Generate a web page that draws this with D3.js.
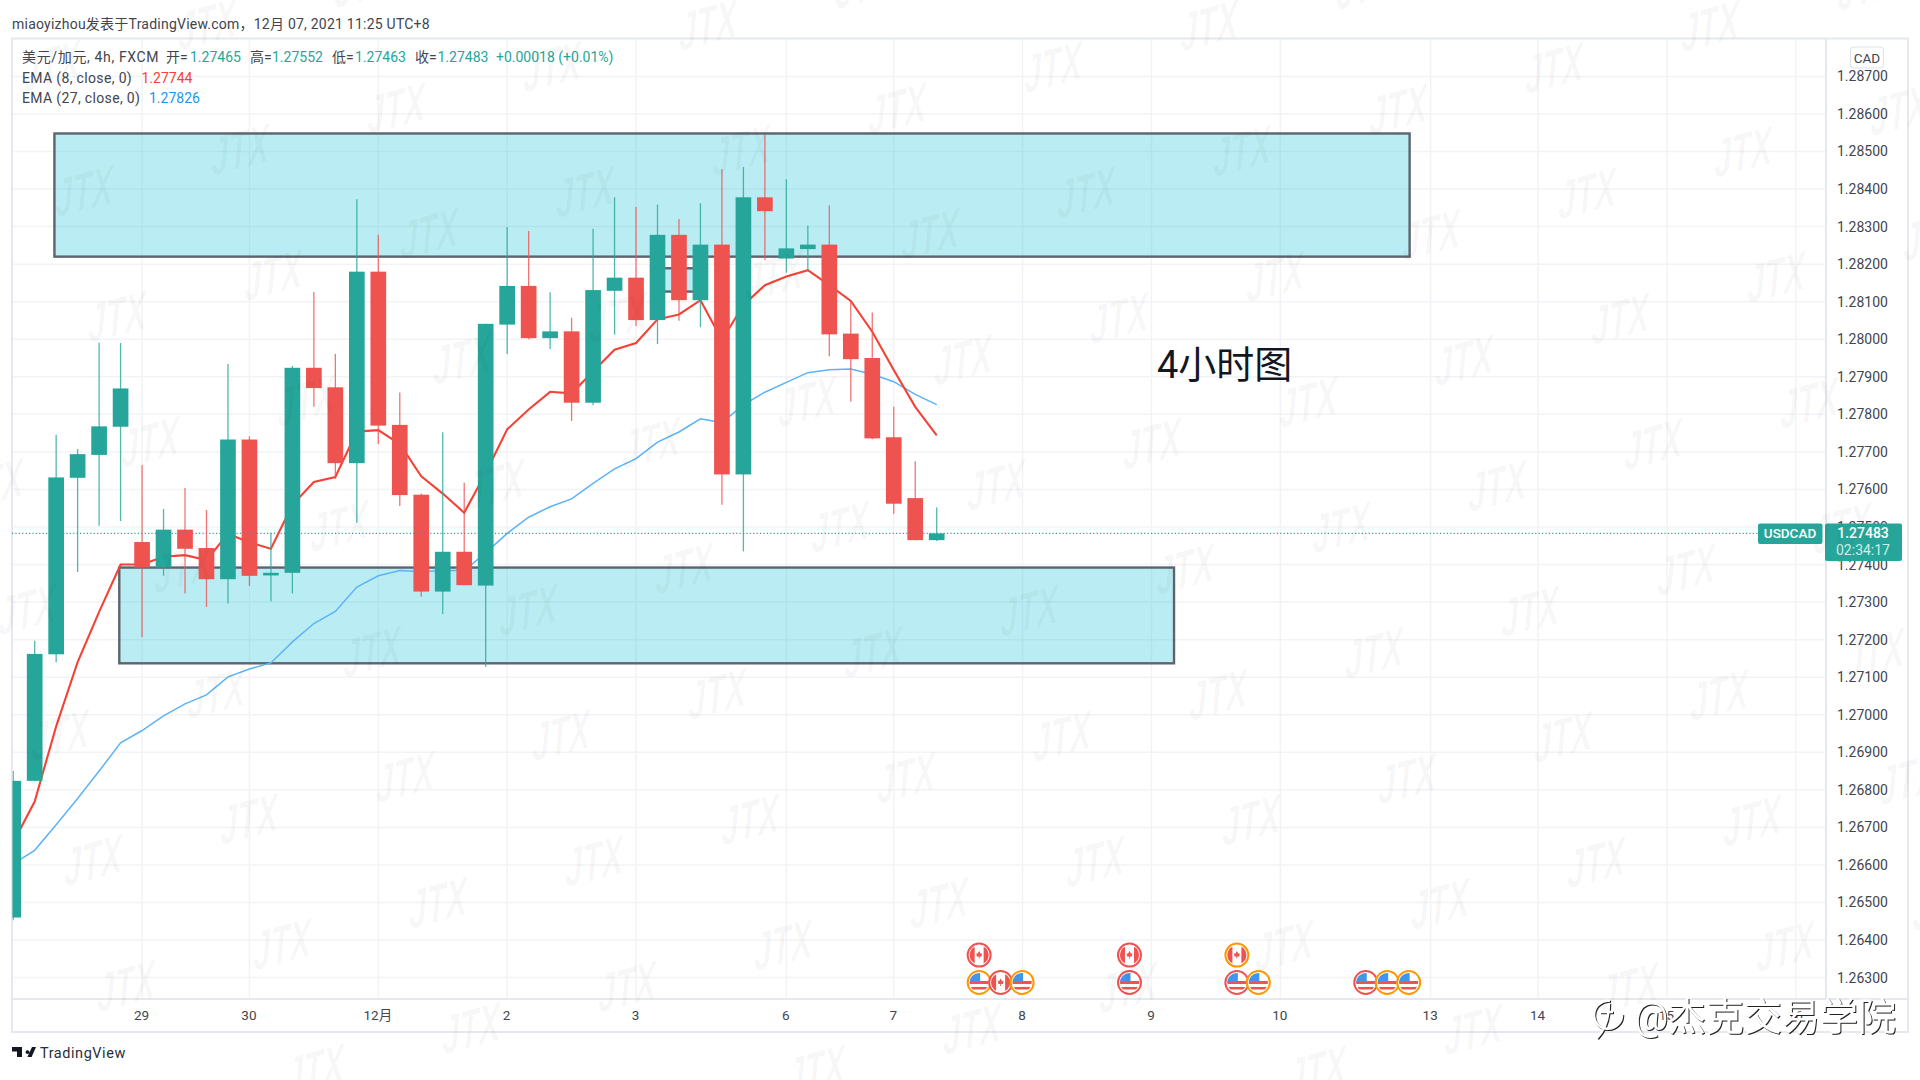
<!DOCTYPE html>
<html lang="zh">
<head>
<meta charset="utf-8">
<title>USDCAD 4h</title>
<script src="https://cdn.jsdelivr.net/npm/d3@7"></script>
<style>
html,body{margin:0;padding:0;background:#fff;}
svg{display:block;}
text{font-family:Roboto,"Noto Sans CJK SC",sans-serif;}
</style>
</head>
<body>
<svg id="c" width="1920" height="1080"></svg>
<script>
// ---------- data ----------
const opens = [1.26460,1.26824,1.27161,1.27631,1.27692,1.27767,1.27460,1.27392,1.27493,1.27444,1.27361,1.27733,1.27371,1.27378,1.27924,1.27872,1.27670,1.28180,1.27772,1.27586,1.27328,1.27434,1.27344,1.28039,1.28142,1.28003,1.28021,1.27831,1.28129,1.28164,1.28051,1.28278,1.28104,1.28252,1.27640,1.28378,1.28215,1.28240,1.28252,1.28015,1.27950,1.27739,1.27577,1.27465];
const highs = [1.26850,1.27197,1.27746,1.27708,1.27991,1.27990,1.27665,1.27548,1.27604,1.27545,1.27934,1.27742,1.27485,1.27929,1.28126,1.27961,1.28373,1.28278,1.27858,1.27589,1.27752,1.27618,1.28041,1.28299,1.28288,1.28125,1.28057,1.28294,1.28378,1.28352,1.28359,1.28320,1.28362,1.28453,1.28459,1.28544,1.28426,1.28303,1.28356,1.28100,1.28071,1.27820,1.27675,1.27552];
const lows = [1.26453,1.26823,1.27140,1.27380,1.27503,1.27516,1.27207,1.27370,1.27323,1.27287,1.27296,1.27343,1.27302,1.27323,1.27820,1.27628,1.27511,1.27721,1.27556,1.27314,1.27268,1.27345,1.27128,1.27961,1.28000,1.27974,1.27782,1.27824,1.28013,1.28035,1.27987,1.28049,1.28032,1.27559,1.27435,1.28211,1.28177,1.28184,1.27955,1.27834,1.27734,1.27535,1.27465,1.27463];
const closes = [1.26824,1.27162,1.27632,1.27694,1.27768,1.27869,1.27392,1.27493,1.27442,1.27361,1.27733,1.27370,1.27378,1.27924,1.27870,1.27670,1.28180,1.27770,1.27585,1.27328,1.27434,1.27345,1.28041,1.28142,1.28003,1.28021,1.27831,1.28131,1.28164,1.28051,1.28278,1.28104,1.28252,1.27640,1.28378,1.28341,1.28242,1.28252,1.28013,1.27947,1.27736,1.27562,1.27465,1.27483];
const ema8 = [1.26660,1.26769,1.26969,1.27140,1.27274,1.27400,1.27400,1.27421,1.27425,1.27412,1.27482,1.27459,1.27442,1.27559,1.27620,1.27633,1.27754,1.27758,1.27721,1.27635,1.27589,1.27538,1.27644,1.27760,1.27813,1.27860,1.27856,1.27914,1.27972,1.27990,1.28053,1.28066,1.28104,1.27998,1.28091,1.28144,1.28167,1.28184,1.28144,1.28102,1.28020,1.27918,1.27820,1.27744];
const ema27 = [1.26603,1.26639,1.26707,1.26777,1.26850,1.26925,1.26958,1.26997,1.27029,1.27053,1.27101,1.27122,1.27138,1.27194,1.27243,1.27275,1.27340,1.27370,1.27384,1.27381,1.27384,1.27384,1.27431,1.27483,1.27526,1.27554,1.27575,1.27616,1.27655,1.27682,1.27726,1.27753,1.27788,1.27778,1.27825,1.27859,1.27885,1.27911,1.27919,1.27921,1.27907,1.27887,1.27853,1.27826];
const priceTicks = [1.287,1.286,1.285,1.284,1.283,1.282,1.281,1.280,1.279,1.278,1.277,1.276,1.275,1.274,1.273,1.272,1.271,1.270,1.269,1.268,1.267,1.266,1.265,1.264,1.263];
const timeIdx = [6,11,17,23,29,36,41,47,53,59,66,71,77,83];
const timeLabels = ["29","30","12月","2","3","6","7","8","9","10","13","14","15","16"];
const zoneX0 = [1.92,4.94,30];
const zoneX1 = [65.02,54.05,32];
const zoneTop = [1.28548,1.27392,1.28189];
const zoneBottom = [1.28220,1.27137,1.28127];
const eventIdx = [45,52,57,45,46,47,52,57,58,63,64,65];
const eventPrice = [1.26360,1.26360,1.26360,1.26287,1.26287,1.26287,1.26287,1.26287,1.26287,1.26287,1.26287,1.26287];
const eventCountry = ["CA","CA","CA","US","CA","US","US","US","US","US","US","US"];
const eventRing = ["#ef5350","#ef5350","#ff9800","#ff9800","#ef5350","#ff9800","#ef5350","#ef5350","#ff9800","#ef5350","#ff9800","#ff9800"];
const lastPrice = 1.27483;
const headerText = "miaoyizhou发表于TradingView.com，12月 07, 2021 11:25 UTC+8";
const legendLabels = ["美元/加元, 4h, FXCM","开=","1.27465","高=","1.27552","低=","1.27463","收=","1.27483","+0.00018 (+0.01%)"];
const legendX = [22,166,190,250,272,332,355,415,437.5,496];
const legendKinds = [0,0,1,0,1,0,1,0,1,1];

// ---------- layout ----------
const GREEN="#26a69a", RED="#ef5350", TXT="#42454e", GRID="#f2f3f6", BORDER="#e6e8ef";
const L=12, T=38.5, PR=1826, TB=999, R=1908, B=1032;
const x = d3.scaleLinear().domain([0,43]).range([13.2,936.7]);
const y = d3.scaleLinear().domain([1.287,1.263]).range([76.4,977.6]);
const svg = d3.select("#c");
svg.append("defs").append("clipPath").attr("id","plot")
   .append("rect").attr("x",L+.5).attr("y",T).attr("width",PR-L-.5).attr("height",TB-T);

// grid
const grid = svg.append("g");
grid.selectAll(".h").data(priceTicks).join("line")
  .attr("x1",L).attr("x2",PR).attr("y1",d=>y(d)).attr("y2",d=>y(d)).attr("stroke",GRID).attr("stroke-width",1.5);
grid.selectAll(".v").data(timeIdx).join("line")
  .attr("x1",d=>x(d)).attr("x2",d=>x(d)).attr("y1",T).attr("y2",TB).attr("stroke",GRID).attr("stroke-width",1.5);

// axes and frame
const yAxis = d3.axisRight(y).tickValues(priceTicks).tickFormat(d3.format(".5f")).tickSize(0).tickPadding(11);
const ga = svg.append("g").attr("transform",`translate(${PR},0)`).call(yAxis);
ga.select(".domain").remove();
ga.selectAll("text").attr("font-size",14).attr("fill",TXT).style("font-family","Roboto");
const xAxis = d3.axisBottom(x).tickValues(timeIdx).tickFormat((d,i)=>timeLabels[i]).tickSize(0).tickPadding(12);
const gx = svg.append("g").attr("transform",`translate(-1,${TB-1})`).call(xAxis);
gx.select(".domain").remove();
gx.selectAll("text").attr("font-size",13.5).attr("fill",TXT);
svg.append("g").attr("fill","none").attr("stroke",BORDER).attr("stroke-width",2)
  .call(g=>{
    g.append("rect").attr("x",L).attr("y",T).attr("width",R-L).attr("height",B-T);
    g.append("line").attr("x1",L).attr("x2",R).attr("y1",TB).attr("y2",TB);
    g.append("line").attr("x1",PR).attr("x2",PR).attr("y1",T).attr("y2",TB);
  });

const plot = svg.append("g").attr("clip-path","url(#plot)");
// zones
plot.append("g").selectAll("rect").data(zoneX0).join("rect")
  .attr("x",(d)=>x(d))
  .attr("width",(d,i)=>x(zoneX1[i])-x(d))
  .attr("y",(d,i)=>y(zoneTop[i]))
  .attr("height",(d,i)=>y(zoneBottom[i])-y(zoneTop[i]))
  .attr("fill","#00bcd4").attr("fill-opacity",.27)
  .attr("stroke","#5d6470").attr("stroke-width",2.4);

// EMAs
const line = d3.line().x((d,i)=>x(i)).y(d=>y(d));
plot.append("path").attr("d",line(ema27)).attr("fill","none").attr("stroke","#5cb3f5").attr("stroke-width",1.5);
plot.append("path").attr("d",line(ema8)).attr("fill","none").attr("stroke","#f44336").attr("stroke-width",2.1);

// candles
const idx = d3.range(opens.length);
const col = i => closes[i]>=opens[i] ? GREEN : RED;
const bw = (x(1)-x(0))*0.73;
plot.append("g").selectAll("line").data(idx).join("line")
  .attr("x1",i=>x(i)).attr("x2",i=>x(i)).attr("y1",i=>y(highs[i])).attr("y2",i=>y(lows[i]))
  .attr("stroke",col).attr("stroke-opacity",.8).attr("stroke-width",1.3);
plot.append("g").selectAll("rect").data(idx).join("rect")
  .attr("x",i=>x(i)-bw/2).attr("width",bw)
  .attr("y",i=>y(Math.max(opens[i],closes[i])))
  .attr("height",i=>Math.max(2.5,Math.abs(y(opens[i])-y(closes[i]))))
  .attr("fill",col);

// last-price line
svg.append("line").attr("x1",L).attr("x2",1758).attr("y1",y(lastPrice)).attr("y2",y(lastPrice))
  .attr("stroke",GREEN).attr("stroke-width",1.2).attr("stroke-dasharray","1.2 2.2");

// price tags
const ly = y(lastPrice);
svg.append("rect").attr("x",1758).attr("y",ly-10).attr("width",64.5).attr("height",20.5).attr("rx",2).attr("fill",GREEN);
svg.append("text").attr("x",1790).attr("y",ly+5).attr("text-anchor","middle").attr("font-size",13.5).attr("font-weight",500).attr("fill","#fff").text("USDCAD");
svg.append("rect").attr("x",1825).attr("y",ly-10).attr("width",77).attr("height",37.5).attr("rx",2).attr("fill",GREEN);
svg.append("text").attr("x",1863).attr("y",ly+5).attr("text-anchor","middle").attr("font-size",14).attr("font-weight",500).attr("fill","#fff").text(d3.format(".5f")(lastPrice));
svg.append("text").attr("x",1863).attr("y",ly+22).attr("text-anchor","middle").attr("font-size",14).attr("fill","#cdeeea").text("02:34:17");

// CAD button
svg.append("rect").attr("x",1850.5).attr("y",47).attr("width",33).attr("height",21).attr("rx",3.5).attr("fill","#fff").attr("stroke","#e0e3eb").attr("stroke-width",1.2);
svg.append("text").attr("x",1867).attr("y",62.5).attr("text-anchor","middle").attr("font-size",13.5).attr("fill",TXT).text("CAD");

// events
const ev = svg.append("g");
d3.range(eventIdx.length).forEach(i=>{
  const g = ev.append("g").attr("transform",`translate(${x(eventIdx[i])-.5},${y(eventPrice[i])})`);
  const id = "f"+i;
  g.append("clipPath").attr("id",id).append("circle").attr("r",9.6);
  g.append("circle").attr("r",12).attr("fill","#fff");
  const f = g.append("g").attr("clip-path",`url(#${id})`);
  if(eventCountry[i]==="CA"){
    f.append("rect").attr("x",-10).attr("y",-10).attr("width",5.5).attr("height",20).attr("fill",RED);
    f.append("rect").attr("x",4.5).attr("y",-10).attr("width",5.5).attr("height",20).attr("fill",RED);
    f.append("path").attr("d","M0,-4L1.6,-1.2L3,-1.8L2.2,1.6L.4,1.4V3.6H-.4V1.4L-2.2,1.6L-3,-1.8L-1.6,-1.2Z").attr("fill",RED);
  } else {
    f.append("rect").attr("x",-10).attr("y",-10).attr("width",20).attr("height",20).attr("fill","#fff");
    f.append("rect").attr("x",-10).attr("y",-1.5).attr("width",20).attr("height",3).attr("fill",RED);
    f.append("rect").attr("x",-10).attr("y",4.5).attr("width",20).attr("height",2.5).attr("fill",RED);
    f.append("rect").attr("x",-10).attr("y",-10).attr("width",11).attr("height",9.5).attr("fill","#3f97e8");
  }
  g.append("circle").attr("r",11.5).attr("fill","none").attr("stroke",eventRing[i]).attr("stroke-width",2);
});

// header + legend
svg.append("text").attr("x",12).attr("y",29).attr("font-size",14).attr("letter-spacing",.23).attr("fill",TXT).text(headerText);
const lg = svg.append("g").attr("font-size",14);
lg.selectAll("text").data(legendLabels).join("text")
  .attr("x",(d,i)=>legendX[i]).attr("y",61.5)
  .attr("letter-spacing",(d,i)=>i===0?.65:0)
  .attr("fill",(d,i)=>legendKinds[i]?GREEN:TXT).text(d=>d);
lg.append("text").attr("x",22).attr("y",82.5).attr("letter-spacing",.35).attr("fill",TXT).text("EMA (8, close, 0)");
lg.append("text").attr("x",141.5).attr("y",82.5).attr("fill","#f44336").text("1.27744");
lg.append("text").attr("x",22).attr("y",103).attr("letter-spacing",.35).attr("fill",TXT).text("EMA (27, close, 0)");
lg.append("text").attr("x",149).attr("y",103).attr("fill","#2196f3").text("1.27826");

// annotation
svg.append("text").attr("x",1157).attr("y",378).attr("font-size",38).attr("fill","#131722").text("4小时图");

// TradingView logo
const tv = svg.append("g").attr("transform","translate(12,1047)");
tv.append("path").attr("fill","#131722").attr("d","M0,0H10V10H5V4.5H0ZM15.5,3.2A1.9,1.9 0 1 1 15.49,3.2ZM20,0H24L19.6,10H15.4Z");
svg.append("text").attr("x",40).attr("y",1058).attr("font-size",14.5).attr("letter-spacing",.55).attr("fill","#2a2e39").text("TradingView");

// JTX watermarks
const wm = svg.append("g").attr("fill","#000").attr("fill-opacity",.036);
for(let i=-6;i<14;i++) for(let j=-4;j<10;j++){
  const px = 84+i*156+j*33, py = 192-i*41.6+j*125.5;
  if(px<-40||px>1960||py<-30||py>1110) continue;
  wm.append("text").attr("transform",`translate(${px},${py}) rotate(-15) skewX(-14) scale(.78,1.25)`)
    .attr("text-anchor","middle").attr("y",14).attr("font-size",42).attr("font-weight",700)
    .style("font-family","'Liberation Sans'").attr("font-style","italic").text("JTX");
}

// publisher mark
const pub = svg.append("g").style("filter","drop-shadow(1px 1px 0.4px #222)");
pub.append("text").attr("x",1634).attr("y",1030).attr("font-size",38).attr("fill","#fff").text("@杰克交易学院");
pub.append("path").attr("fill","none").attr("stroke","#fff").attr("stroke-width",2.5)
   .attr("d","M1610,1001A14,14 0 1 0 1622,1014M1613,1012H1600M1609,1003C1609,1018 1605,1030 1597,1038");
</script>
</body>
</html>
